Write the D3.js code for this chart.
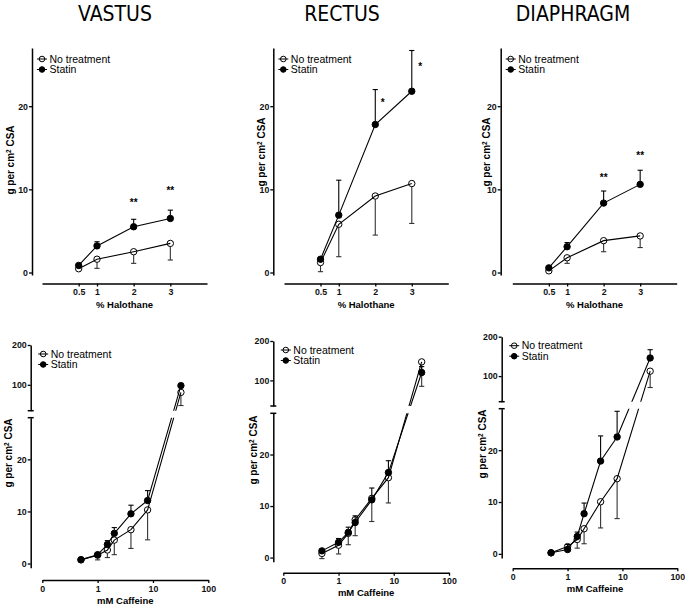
<!DOCTYPE html>
<html lang="en">
<head>
<meta charset="UTF-8">
<title>Contracture force</title>
<script src="https://cdn.jsdelivr.net/npm/d3@7"></script>
<style>
  body { margin: 0; background: #fff; }
  svg { display: block; font-family: "Liberation Sans", Arial, sans-serif; }
</style>
</head>
<body>
<div id="chart"></div>
<script>
// ---------- data ----------
const muscles = ["VASTUS", "RECTUS", "DIAPHRAGM"];
const seriesNames = ["No treatment", "Statin"];
const halothane = [0.5, 1, 2, 3];
const caffeine = [0.5, 1, 1.5, 2, 4, 8, 32];
const halTicks = [0.5, 1, 2, 3];
const cafTicks = [0.1, 1, 10, 100];
const cafTickLabels = ["0", "1", "10", "100"];
const forceTicks = [0, 10, 20];
const forceTicksHigh = [100, 200];

// halothane, mean and error (no treatment error drawn down, statin up)
const vastusHalNone = [0.45, 1.6, 2.5, 3.5];
const vastusHalNoneErr = [0.25, 1.1, 1.4, 2.0];
const vastusHalStatin = [0.85, 3.2, 5.5, 6.5];
const vastusHalStatinErr = [0.2, 0.5, 0.9, 1.0];
const rectusHalNone = [1.2, 5.8, 9.2, 10.7];
const rectusHalNoneErr = [1.1, 3.9, 4.7, 4.8];
const rectusHalStatin = [1.6, 6.9, 17.8, 21.8];
const rectusHalStatinErr = [0.3, 4.2, 4.2, 4.9];
const diaphHalNone = [0.2, 1.77, 3.83, 4.4];
const diaphHalNoneErr = [0.1, 0.67, 1.33, 1.4];
const diaphHalStatin = [0.56, 3.1, 8.35, 10.6];
const diaphHalStatinErr = [0.1, 0.5, 1.45, 1.7];

// caffeine
const vastusCafNone = [0.7, 1.6, 2.6, 4.5, 6.5, 10.3, 81];
const vastusCafNoneErr = [0.1, 0.9, 1.45, 2.8, 3.6, 5.75, 33];
const vastusCafStatin = [0.75, 1.7, 3.65, 5.8, 9.55, 12.1, 98];
const vastusCafStatinErr = [0.1, 0.5, 0.75, 1.1, 1.65, 1.9, 8];
const rectusCafNone = [0.8, 2.4, 4.7, 7.35, 11.5, 15.5, 147];
const rectusCafNoneErr = [1.0, 1.7, 2.2, 3.1, 4.5, 4.9, 62];
const rectusCafStatin = [1.3, 2.96, 4.9, 6.8, 11.2, 16.5, 120];
const rectusCafStatinErr = [0.2, 0.74, 1.0, 1.3, 2.3, 2.3, 15];
const diaphCafNone = [0.2, 1.4, 2.77, 4.85, 10.05, 14.5, 112.5];
const diaphCafNoneErr = [0.1, 0.9, 1.67, 2.9, 5.05, 7.7, 41.5];
const diaphCafStatin = [0.2, 0.83, 3.35, 7.75, 17.9, 22.55, 146];
const diaphCafStatinErr = [0.1, 0.97, 0.85, 2.05, 4.85, 4.95, 21];

// significance marks [x, y, text]
const vastusStars = [[2, 8.6, "**"], [3, 10.1, "**"]];
const rectusStars = [[2.2, 20.6, "*"], [3.23, 24.9, "*"]];
const diaphStars = [[2, 11.6, "**"], [3, 14.3, "**"]];

// ---------- layout ----------
const W = 685, H = 604;
const topLayout = [
  { ax: 32, x0: 42, x1: 207, labX: 10, labY: 160, titleX: 115 },
  { ax: 273.3, x0: 284, x1: 448.3, labX: 261, labY: 152, titleX: 342 },
  { ax: 500.7, x0: 512.3, x1: 676.7, labX: 486, labY: 152, titleX: 573 }
];
const botLayout = [
  { ax: 30.7, x0: 42.3, x1: 208.3, xAxisY: 580, hi: [410.7, 345], lo: [567.7, 417.7], labX: 8, labY: 453 },
  { ax: 273.3, x0: 283.3, x1: 449, xAxisY: 572.7, hi: [406, 341], lo: [561.7, 413.3], labX: 253, labY: 450 },
  { ax: 501.7, x0: 512.7, x1: 677.3, xAxisY: 568.3, hi: [401.7, 336.7], lo: [558, 408.7], labX: 482, labY: 444 }
];

const halData = [
  [vastusHalNone, vastusHalNoneErr, vastusHalStatin, vastusHalStatinErr, vastusStars],
  [rectusHalNone, rectusHalNoneErr, rectusHalStatin, rectusHalStatinErr, rectusStars],
  [diaphHalNone, diaphHalNoneErr, diaphHalStatin, diaphHalStatinErr, diaphStars]
];
const cafData = [
  [vastusCafNone, vastusCafNoneErr, vastusCafStatin, vastusCafStatinErr],
  [rectusCafNone, rectusCafNoneErr, rectusCafStatin, rectusCafStatinErr],
  [diaphCafNone, diaphCafNoneErr, diaphCafStatin, diaphCafStatinErr]
];

const svg = d3.select("#chart").append("svg")
  .attr("width", W)
  .attr("height", H);

const R = 3.2;

function styleAxis (g) {
  g.attr("font-family", null).attr("font-size", null);
  g.select(".domain").attr("stroke-width", 1.5);
  g.selectAll(".tick line").attr("stroke-width", 1.3);
  g.selectAll(".tick text")
    .attr("font-size", 8.8)
    .attr("font-weight", "bold")
    .attr("fill", "#111");
}

function yLabel (g, x, y) {
  let t = g.append("text")
    .attr("transform", `translate(${x},${y}) rotate(-90)`)
    .attr("text-anchor", "middle")
    .attr("dy", "0.35em")
    .attr("font-size", 10)
    .attr("font-weight", "bold");
  t.append("tspan").text("g per cm");
  t.append("tspan").attr("font-size", 6.5).attr("baseline-shift", "super").text("2");
  t.append("tspan").text(" CSA");
}

function legend (g, ax, yTop, dx, rows) {
  seriesNames.forEach((name, i) => {
    let y = yTop + rows[i];
    let mx = ax + dx;
    g.append("line")
      .attr("x1", mx - 5).attr("x2", mx + 5)
      .attr("y1", y).attr("y2", y)
      .attr("stroke", "#000").attr("stroke-width", 1);
    g.append("circle")
      .attr("cx", mx).attr("cy", y).attr("r", 2.8)
      .attr("fill", i === 0 ? "none" : "#000")
      .attr("stroke", "#000").attr("stroke-width", 1);
    g.append("text")
      .attr("x", mx + 7.5).attr("y", y)
      .attr("dy", "0.35em")
      .attr("font-size", 10.5)
      .text(name);
  });
}

// draws one series: line, error bars, markers
function drawSeries (g, xs, vals, errs, x, y, filled, clip) {
  let dir = filled ? 1 : -1;
  let pts = xs.map((d, i) => [x(d), y(vals[i])]);
  let lg = g.append("g");
  if (clip) lg.attr("clip-path", `url(#${clip})`);
  lg.append("path")
    .attr("d", d3.line()(pts))
    .attr("fill", "none")
    .attr("stroke", "#000")
    .attr("stroke-width", 1.1);

  let eg = g.append("g").attr("stroke", filled ? "#000" : "#333").attr("stroke-width", 1.1);
  xs.forEach((d, i) => {
    let px = x(d);
    let yEnd = y(vals[i] + dir * errs[i]);
    let yStart = pts[i][1] - dir * R;
    if ((filled && yEnd < yStart) || (!filled && yEnd > yStart)) {
      eg.append("line").attr("x1", px).attr("x2", px).attr("y1", yStart).attr("y2", yEnd);
      eg.append("line").attr("x1", px - 2.6).attr("x2", px + 2.6).attr("y1", yEnd).attr("y2", yEnd);
    }
  });

  g.append("g").selectAll("circle")
    .data(pts)
    .enter()
    .append("circle")
    .attr("cx", d => d[0])
    .attr("cy", d => d[1])
    .attr("r", R)
    .attr("fill", filled ? "#000" : "none")
    .attr("stroke", "#000")
    .attr("stroke-width", 1);
}

// ---------- top row: halothane ----------
const yTopScale = d3.scaleLinear().domain([-0.3, 27]).range([275, 48]);
const topAxisY = 283.5;

topLayout.forEach((L, k) => {
  let g = svg.append("g");
  let [none, noneErr, stat, statErr, stars] = halData[k];

  g.append("text")
    .attr("x", L.titleX).attr("y", 21)
    .attr("text-anchor", "middle")
    .attr("font-family", "'Liberation Sans Narrow', 'DejaVu Sans Condensed', sans-serif")
    .attr("font-size", 21)
    .text(muscles[k]);

  let x = d3.scaleLinear().domain([-0.5, 4]).range([L.x0, L.x1]);

  g.append("g")
    .attr("transform", `translate(${L.ax},0)`)
    .call(d3.axisLeft(yTopScale).tickValues(forceTicks).tickSize(3).tickSizeOuter(0).tickPadding(1))
    .call(styleAxis);

  g.append("g")
    .attr("transform", `translate(0,${topAxisY})`)
    .call(d3.axisBottom(x).tickValues(halTicks).tickFormat(d => String(d))
      .tickSize(3).tickSizeOuter(0).tickPadding(2.5))
    .call(styleAxis);

  g.append("text")
    .attr("x", (L.x0 + L.x1) / 2).attr("y", topAxisY + 24)
    .attr("text-anchor", "middle")
    .attr("font-size", 9.5).attr("font-weight", "bold")
    .text("% Halothane");

  yLabel(g, L.labX, L.labY);
  legend(g, L.ax, 48, 10, [11, 21.5]);

  drawSeries(g, halothane, none, noneErr, x, yTopScale, false);
  drawSeries(g, halothane, stat, statErr, x, yTopScale, true);

  g.selectAll("text.star")
    .data(stars)
    .enter()
    .append("text")
    .attr("class", "star")
    .attr("x", d => x(d[0]))
    .attr("y", d => yTopScale(d[1]) + 5)
    .attr("text-anchor", "middle")
    .attr("font-size", 10).attr("font-weight", "bold")
    .attr("fill", "#000")
    .text(d => d[2]);
});

// ---------- bottom row: caffeine ----------
botLayout.forEach((L, k) => {
  let g = svg.append("g");
  let [none, noneErr, stat, statErr] = cafData[k];

  let x = d3.scaleLog().domain([0.1, 100]).range([L.x0, L.x1]);
  let yHi = d3.scaleLinear().domain([35, 200]).range(L.hi);
  let yLo = d3.scaleLinear().domain([-0.8, 28]).range(L.lo);
  let y = v => v >= 30 ? yHi(v) : yLo(v);

  let clipId = "gap" + k;
  let cp = svg.append("clipPath").attr("id", clipId);
  cp.append("rect").attr("x", 0).attr("width", W).attr("y", 0).attr("height", L.hi[0]);
  cp.append("rect").attr("x", 0).attr("width", W).attr("y", L.lo[1]).attr("height", H - L.lo[1]);

  g.append("g")
    .attr("transform", `translate(${L.ax},0)`)
    .call(d3.axisLeft(yHi).tickValues(forceTicksHigh).tickSize(3).tickSizeOuter(0).tickPadding(1))
    .call(styleAxis);
  g.append("g")
    .attr("transform", `translate(${L.ax},0)`)
    .call(d3.axisLeft(yLo).tickValues(forceTicks).tickSize(3).tickSizeOuter(0).tickPadding(1))
    .call(styleAxis);
  // break caps
  [L.hi[0], L.lo[1]].forEach(yy => {
    g.append("line")
      .attr("x1", L.ax - 3).attr("x2", L.ax + 3)
      .attr("y1", yy).attr("y2", yy)
      .attr("stroke", "#000").attr("stroke-width", 1.5);
  });

  g.append("g")
    .attr("transform", `translate(0,${L.xAxisY})`)
    .call(d3.axisBottom(x).tickValues(cafTicks).tickFormat((d, i) => cafTickLabels[i])
      .tickSize(3).tickSizeOuter(0).tickPadding(2.5))
    .call(styleAxis);

  g.append("text")
    .attr("x", (L.x0 + L.x1) / 2).attr("y", L.xAxisY + 23.5)
    .attr("text-anchor", "middle")
    .attr("font-size", 9.5).attr("font-weight", "bold")
    .text("mM Caffeine");

  yLabel(g, L.labX, L.labY);
  legend(g, L.ax, L.hi[1], 12.5, [9, 19.5]);

  drawSeries(g, caffeine, none, noneErr, x, y, false, clipId);
  drawSeries(g, caffeine, stat, statErr, x, y, true, clipId);
});
</script>
</body>
</html>
